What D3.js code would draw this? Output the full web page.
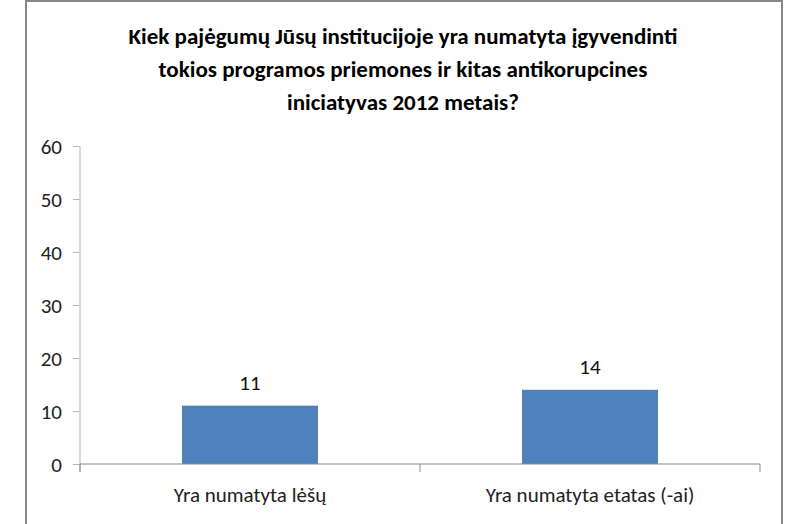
<!DOCTYPE html>
<html>
<head>
<meta charset="utf-8">
<script src="https://cdn.jsdelivr.net/npm/d3@7"></script>
<style>
    body { margin: 0; background: #fff; }
    text { font-family: Carlito, Calibri, 'Liberation Sans', sans-serif; }
</style>
</head>
<body>
<div id="chart"></div>
<script>
// data
const categories = ['Yra numatyta lėšų', 'Yra numatyta etatas (-ai)'];
const values = [11, 14];
const yTicks = [0, 10, 20, 30, 40, 50, 60];
const titleLines = [
    'Kiek pajėgumų Jūsų institucijoje yra numatyta įgyvendinti',
    'tokios programos priemones ir kitas antikorupcines',
    'iniciatyvas 2012 metais?'
];

const width = 792, height = 524;
const margin = [146, 60, 80, 32]; // top, bottom, left, right

const svg = d3.select('#chart')
    .append('svg')
    .attr('width', width)
    .attr('height', height);

// outer chart frame
svg.append('rect')
    .attr('x', 26).attr('y', 1)
    .attr('width', 756).attr('height', height + 10)
    .attr('fill', '#fff')
    .attr('stroke', '#878787')
    .attr('stroke-width', 2);

// title
svg.append('text')
    .attr('text-anchor', 'middle')
    .style('font-size', '23px')
    .style('font-weight', 'bold')
    .attr('fill', '#000')
    .selectAll('tspan')
    .data(titleLines)
    .join('tspan')
    .attr('x', 403)
    .attr('y', (d, i) => 44 + i * 33)
    .text(d => d);

const chartWidth = width - margin[2] - margin[3],
    chartHeight = 464 - margin[0];

const scaleX = d3.scaleBand(categories, [0, chartWidth]).paddingInner(0.6).paddingOuter(0.3);
const bandX = d3.scaleBand(categories, [0, chartWidth]); // category slots for ticks
const scaleY = d3.scaleLinear([0, 60], [chartHeight, 0]);

const chart = svg.append('g')
    .attr('transform', `translate(${margin[2]}, ${margin[0]})`);

// y axis
const axisY = chart.append('g')
    .call(d3.axisLeft(scaleY).tickValues(yTicks).tickSize(7).tickPadding(11).tickSizeOuter(0));
axisY.select('.domain').attr('stroke', '#b7b7b7').attr('d', `M0,0V${chartHeight + 8}`);
axisY.selectAll('.tick line').attr('stroke', '#b7b7b7');
axisY.selectAll('.tick text')
    .style('font-size', '21px')
    .attr('fill', '#222')
    .attr('dy', '0.34em');

// bars
chart.selectAll('rect.bar')
    .data(values)
    .join('rect')
    .classed('bar', true)
    .attr('x', (d, i) => scaleX(categories[i]))
    .attr('y', d => scaleY(d))
    .attr('width', scaleX.bandwidth())
    .attr('height', d => scaleY(0) - scaleY(d))
    .attr('fill', '#4f81bd');

// value labels
chart.selectAll('text.value')
    .data(values)
    .join('text')
    .classed('value', true)
    .attr('x', (d, i) => scaleX(categories[i]) + scaleX.bandwidth() / 2)
    .attr('y', d => scaleY(d) - 16)
    .attr('text-anchor', 'middle')
    .style('font-size', '21px')
    .attr('fill', '#111')
    .text(d => d);

// x axis: ticks on the slot boundaries, labels centred in slots
const axisX = chart.append('g')
    .attr('transform', `translate(0, ${chartHeight})`);
axisX.append('line')
    .attr('x1', 0).attr('x2', chartWidth)
    .attr('stroke', '#8a8a8a');
axisX.selectAll('line.tick')
    .data([0, ...categories.map(c => bandX(c) + bandX.bandwidth())])
    .join('line')
    .classed('tick', true)
    .attr('x1', d => d).attr('x2', d => d)
    .attr('y1', 0).attr('y2', 8)
    .attr('stroke', '#8a8a8a');
axisX.selectAll('text')
    .data(categories)
    .join('text')
    .attr('x', d => bandX(d) + bandX.bandwidth() / 2)
    .attr('y', 38)
    .attr('text-anchor', 'middle')
    .style('font-size', '21px')
    .attr('fill', '#222')
    .text(d => d);
</script>
</body>
</html>
